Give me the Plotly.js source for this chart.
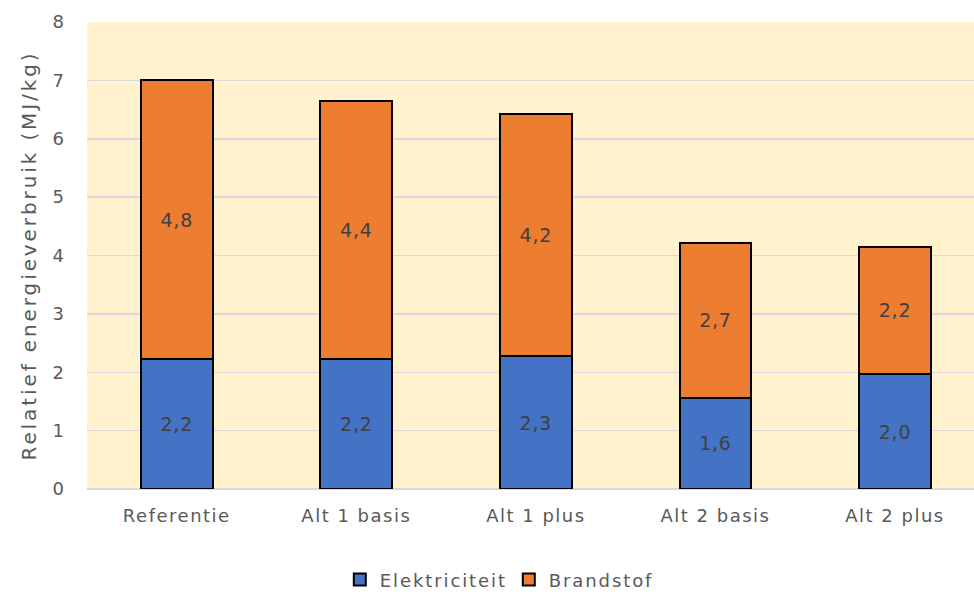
<!DOCTYPE html>
<html><head><meta charset="utf-8">
<script src="https://cdn.plot.ly/plotly-3.0.1.min.js"></script>
<style>
body{margin:0;padding:0;background:#fff}
#chart .xtick text{letter-spacing:1.5px}
#chart text.ytitle{letter-spacing:2.9px}
#chart text.legendtext{letter-spacing:1.9px}
#chart text.bartext{letter-spacing:0.8px}
</style>
</head><body>
<div id="chart" style="width:974px;height:594px"></div>
<script>
const categories = ["Referentie", "Alt 1 basis", "Alt 1 plus", "Alt 2 basis", "Alt 2 plus"];
const elektriciteit = [2.23, 2.23, 2.27, 1.56, 1.97];
const brandstof = [4.77, 4.42, 4.16, 2.66, 2.18];
const seriesNames = ["Elektriciteit", "Brandstof"];
const yTicks = [0, 1, 2, 3, 4, 5, 6, 7, 8];

const font = "'DejaVu Sans', sans-serif";
function mk(name, y, color) {
  return {
    type: "bar", name: name, x: categories, y: y,
    marker: {color: color, line: {color: "#000000", width: 2}},
    texttemplate: "%{y:.1f}", textposition: "inside", insidetextanchor: "middle",
    textfont: {family: font, size: 19, color: "#404040"},
    hoverinfo: "skip"
  };
}
const data = [mk(seriesNames[0], elektriciteit, "#4472C4"), mk(seriesNames[1], brandstof, "#ED7D31")];
const layout = {
  width: 974, height: 594,
  margin: {l: 87, r: 0, t: 22, b: 105, autoexpand: false},
  paper_bgcolor: "#ffffff", plot_bgcolor: "#FFF2CC",
  barmode: "stack", bargap: 0.6,
  separators: ",.",
  font: {family: font, color: "#595959", size: 18},
  xaxis: {range: [-0.5, 4.44], showgrid: false, zeroline: false, showline: false,
          ticks: "", tickfont: {size: 18, color: "#595959"}, ticklabelstandoff: 14},
  yaxis: {range: [0, 8], tickvals: yTicks, showgrid: true, gridcolor: "#D9D9D9", gridwidth: 1.5,
          zeroline: true, zerolinecolor: "#D9D9D9", zerolinewidth: 1.5,
          tickfont: {size: 18, color: "#595959"}, ticklabelstandoff: 22,
          title: {text: "Relatief energieverbruik (MJ/kg)\u00A0\u00A0", font: {size: 20, color: "#595959"}, standoff: 10}},
  showlegend: true,
  legend: {orientation: "h", x: 0.285, xanchor: "left", y: -0.155, yanchor: "top",
           entrywidth: 124, entrywidthmode: "pixels",
           font: {size: 18, color: "#595959"}, traceorder: "normal"}
};
Plotly.newPlot("chart", data, layout, {displayModeBar: false, staticPlot: true});
</script>
</body></html>
